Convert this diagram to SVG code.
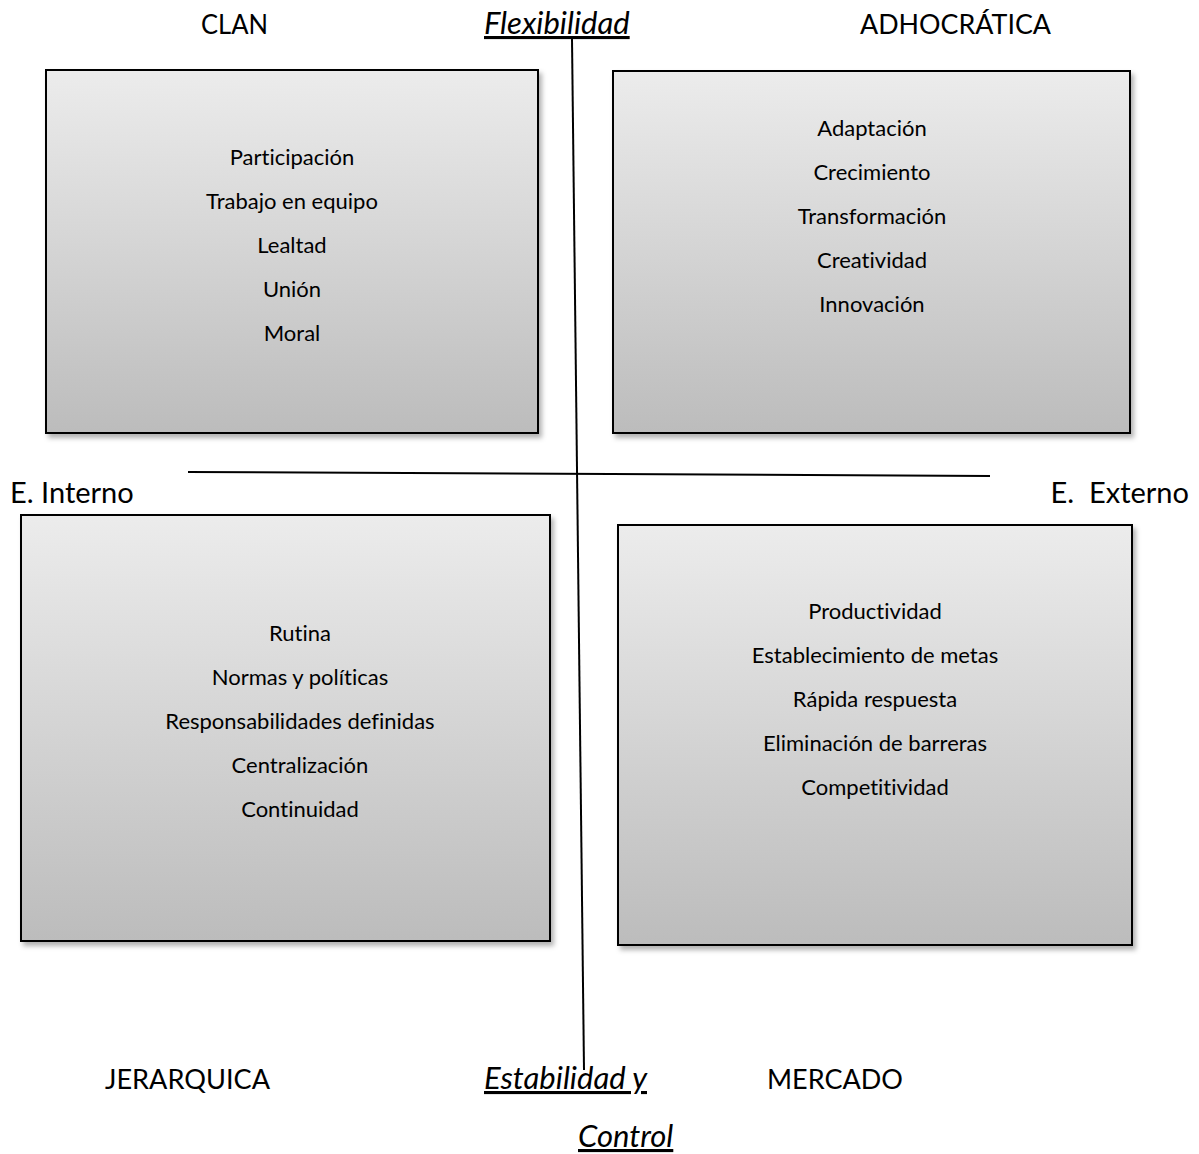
<svg xmlns="http://www.w3.org/2000/svg" width="1199" height="1154" viewBox="0 0 1199 1154">
  <style>
    text { font-variant-ligatures: none; font-feature-settings: "liga" 0; }
    .box { fill: url(#boxFill); stroke: #000; stroke-width: 2; filter: url(#shadow); }
    .item { font-family: Lato, "Open Sans", sans-serif; font-size: 22px; fill: #000; text-anchor: middle; }
    .label { font-family: Lato, "Open Sans", sans-serif; font-size: 29px; fill: #000; }
    .caps { font-family: Lato, "Open Sans", sans-serif; font-size: 27px; fill: #000; }
    .axis { font-family: Lato, "Open Sans", sans-serif; font-size: 31px; font-style: italic; text-decoration: underline; fill: #000; }
    .line { stroke: #000; stroke-width: 2; fill: none; }
  </style>
  <defs>
    <linearGradient id="boxFill" x1="0" y1="0" x2="0" y2="1">
      <stop offset="0" stop-color="#ececec"/>
      <stop offset="1" stop-color="#bcbcbc"/>
    </linearGradient>
    <filter id="shadow" x="-5%" y="-5%" width="115%" height="115%">
      <feDropShadow dx="3" dy="4" stdDeviation="2.5" flood-color="#000" flood-opacity="0.3"/>
    </filter>
  </defs>
  <rect width="1199" height="1154" fill="#fff"/>

  <!-- quadrant boxes -->
  <g id="clan">
    <rect class="box" x="46" y="70" width="492" height="363"/>
    <text class="item" x="292" y="165">Participación</text>
    <text class="item" x="292" y="209">Trabajo en equipo</text>
    <text class="item" x="292" y="253">Lealtad</text>
    <text class="item" x="292" y="297">Unión</text>
    <text class="item" x="292" y="341">Moral</text>
  </g>
  <g id="adhocratica">
    <rect class="box" x="613" y="71" width="517" height="362"/>
    <text class="item" x="872" y="136">Adaptación</text>
    <text class="item" x="872" y="180">Crecimiento</text>
    <text class="item" x="872" y="224">Transformación</text>
    <text class="item" x="872" y="268">Creatividad</text>
    <text class="item" x="872" y="312">Innovación</text>
  </g>
  <g id="jerarquica">
    <rect class="box" x="21" y="515" width="529" height="426"/>
    <text class="item" x="300" y="641">Rutina</text>
    <text class="item" x="300" y="685">Normas y políticas</text>
    <text class="item" x="300" y="729">Responsabilidades definidas</text>
    <text class="item" x="300" y="773">Centralización</text>
    <text class="item" x="300" y="817">Continuidad</text>
  </g>
  <g id="mercado">
    <rect class="box" x="618" y="525" width="514" height="420"/>
    <text class="item" x="875" y="619">Productividad</text>
    <text class="item" x="875" y="663">Establecimiento de metas</text>
    <text class="item" x="875" y="707">Rápida respuesta</text>
    <text class="item" x="875" y="751">Eliminación de barreras</text>
    <text class="item" x="875" y="795">Competitividad</text>
  </g>

  <!-- axes -->
  <g id="connectors">
    <line class="line" x1="572" y1="39" x2="584" y2="1070"/>
    <line class="line" x1="188" y1="472" x2="990" y2="476"/>
  </g>

  <!-- outer labels -->
  <g id="labels">
    <text class="caps" x="201" y="34" textLength="67" lengthAdjust="spacingAndGlyphs">CLAN</text>
    <text class="axis" x="484" y="34">Flexibilidad</text>
    <text class="caps" x="860" y="34" textLength="191" lengthAdjust="spacingAndGlyphs">ADHOCRÁTICA</text>
    <text class="label" x="10" y="503">E. Interno</text>
    <text class="label" x="1189" y="503" text-anchor="end" xml:space="preserve">E.  Externo</text>
    <text class="caps" x="105" y="1089" textLength="165" lengthAdjust="spacingAndGlyphs">JERARQUICA</text>
    <text class="axis" x="484" y="1089">Estabilidad y</text>
    <text class="caps" x="767" y="1089" textLength="136" lengthAdjust="spacingAndGlyphs">MERCADO</text>
    <text class="axis" x="578" y="1147">Control</text>
  </g>
</svg>
